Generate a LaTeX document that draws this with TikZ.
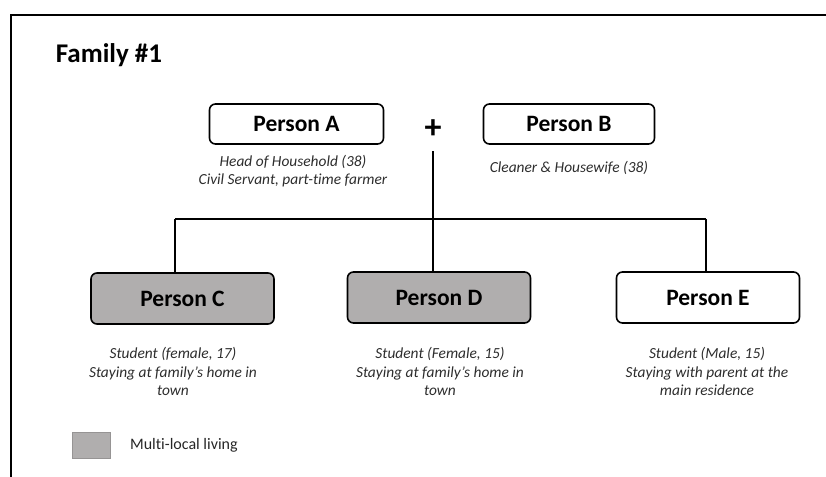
\documentclass[tikz,border=0pt]{standalone}
\usepackage{fontspec}
\setmainfont{Carlito}[Ligatures = NoCommon]

\definecolor{boxgray}{RGB}{176,174,174}
\definecolor{notegray}{RGB}{45,45,45}

\tikzset{
	person/.style = {draw, line width = 1.6pt, rounded corners = 6pt, minimum height = 51pt, minimum width = 183pt, font = \fontsize{23.5}{27}\selectfont\bfseries},
	parent/.style = {person, minimum height = 40pt},
	multi/.style = {person, fill = boxgray},
	note/.style = {align = center, text = notegray, font = \fontsize{15.4}{18.5}\selectfont\itshape}
}

\begin{document}
\begin{tikzpicture}[x = 1pt, y = -1pt, line width = 1.6pt]

	% Definition
	
	\def\Hy{219} 		% Height of sibling line
	\def\Ny{371.5} 		% Height of notes under children

	\useasboundingbox (0, 0) rectangle (826, 476);
	\clip (0, 0) rectangle (826, 476);
	
	% Frame and title
	
	\draw (11, 15) rectangle (900, 540);
	\node [anchor = base west, inner sep = 0pt, font = \fontsize{27}{32}\selectfont\bfseries] (title) at (55, 63) {Family \#1};
	
	% Parents
	
	\node [parent, minimum width = 174pt] (A) at (296.5, 124) {Person A};
	\node [parent, minimum width = 171pt] (B) at (569, 124) {Person B};
	\node [font = \fontsize{34}{40}\selectfont\bfseries] (plus) at (433, 129) {+};
	
	\node [note] (noteA) at (293, 171) {Head of Household (38)\\Civil Servant, part-time farmer};
	\node [note] (noteB) at (569, 168) {Cleaner \& Housewife (38)};
	
	% Children
	
	\node [multi] (C) at (182.5, 298.5) {Person C};
	\node [multi] (D) at (439, 297.5) {Person D};
	\node [person] (E) at (708, 297.5) {Person E};
	
	\node [note] (noteC) at (173, \Ny) {Student (female, 17)\\Staying at family’s home in\\town};
	\node [note] (noteD) at (440, \Ny) {Student (Female, 15)\\Staying at family’s home in\\town};
	\node [note] (noteE) at (707, \Ny) {Student (Male, 15)\\Staying with parent at the\\main residence};
	
	% Family tree lines
	
	\coordinate (stem) at (433, 151);
	\coordinate (left) at (175, \Hy);
	\coordinate (mid) at (433, \Hy);
	\coordinate (right) at (706, \Hy);
	
	\draw (stem) -- (mid);
	\draw (left) -- (right);
	\draw (left) -- (left |- C.north);
	\draw (mid) -- (mid |- D.north);
	\draw (right) -- (right |- E.north);
	
	% Legend
	
	\node [draw = boxgray!85!black, line width = 0.6pt, fill = boxgray, minimum width = 38pt, minimum height = 26pt] (key) at (91, 445) {};
	\node [anchor = west, text = black!85, font = \fontsize{16}{19}\selectfont] (keytext) at (126, 445) {Multi-local living};

\end{tikzpicture}
\end{document}
